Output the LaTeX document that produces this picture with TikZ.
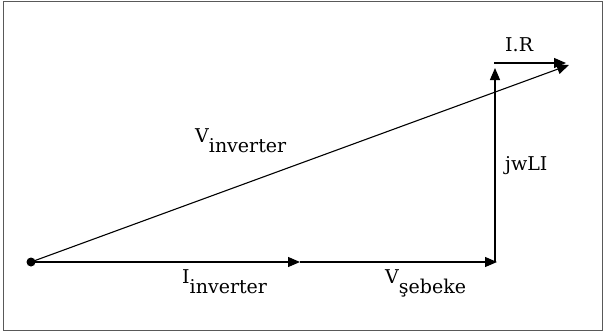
\documentclass[tikz,border=0pt]{standalone}
\usepackage{fontspec}
\setmainfont{DejaVu Serif}
\usetikzlibrary{arrows.meta}

\tikzset{
  phasor/.style={line width=1.2pt,-{Triangle[length=12pt,width=10pt]}},
  lbl/.style={font=\fontsize{19}{22}\selectfont,inner sep=0pt,anchor=base west}
}
\newcommand{\lowsub}[2]{#1\raisebox{-10pt}{#2}}

\begin{document}
\begin{tikzpicture}[x=1pt,y=-1pt]
\useasboundingbox (0,0) rectangle (605,333);
\draw[gray!70!black,line width=0.8pt] (3,1) rectangle (602,330);

\coordinate (o) at (31,262);
\coordinate (i) at (300,262);
\coordinate (s) at (497,262);
\coordinate (c) at (495,262);
\coordinate (t) at (495,68);
\coordinate (rs) at (494,63);
\coordinate (re) at (566,63);
\coordinate (r) at (569,65);

\fill (o) circle (4.5pt);
\draw[phasor] (o) -- (i);
\draw[phasor] (i) -- (s);
\draw[phasor] (c) -- (t);
\draw[phasor] (rs) -- (re);
\draw[phasor,line width=1.1pt] (o) -- (r);

\node[lbl] (vinv) at (195,142) {\lowsub{V}{inverter}};
\node[lbl] (iinv) at (182,283) {\lowsub{I}{inverter}};
\node[lbl] (vseb) at (385,283) {\lowsub{V}{şebeke}};
\node[lbl] (jwli) at (505,170) {jwLI};
\node[lbl] (ir) at (505,51) {I.R};
\end{tikzpicture}
\end{document}
